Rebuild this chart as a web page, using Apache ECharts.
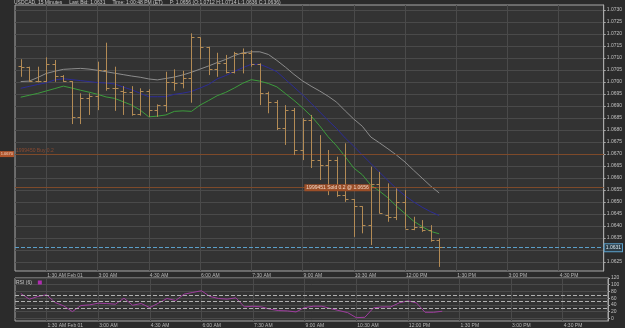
<!DOCTYPE html>
<html>
<head>
<meta charset="utf-8">
<script src="https://cdn.jsdelivr.net/npm/echarts@6/dist/echarts.min.js"></script>
<style>
html, body { margin: 0; padding: 0; background: #2b2b2b; }
#chart { width: 625px; height: 328px; }
</style>
</head>
<body>
<div id="chart"></div>
<script>
// 15 minute bars, Feb 01
var barTimes = ['00:45', '01:00', '01:15', '01:30', '01:45', '02:00', '02:15', '02:30', '02:45', '03:00',
  '03:15', '03:30', '03:45', '04:00', '04:15', '04:30', '04:45', '05:00', '05:15', '05:30',
  '05:45', '06:00', '06:15', '06:30', '06:45', '07:00', '07:15', '07:30', '07:45', '08:00',
  '08:15', '08:30', '08:45', '09:00', '09:15', '09:30', '09:45', '10:00', '10:15', '10:30',
  '10:45', '11:00', '11:15', '11:30', '11:45', '12:00', '12:15', '12:30', '12:45', '13:00'];

var opens = [1.07067, 1.07064, 1.07004, 1.07005, 1.07075, 1.07025, 1.07004, 1.06853, 1.06932, 1.06942,
  1.07050, 1.06974, 1.06964, 1.06960, 1.06865, 1.06963, 1.06883, 1.06904, 1.07001, 1.06997,
  1.07015, 1.07186, 1.07145, 1.07053, 1.07078, 1.07043, 1.07122, 1.07120, 1.07074, 1.06955,
  1.06918, 1.06808, 1.06883, 1.06717, 1.06842, 1.06675, 1.06654, 1.06675, 1.06529, 1.06513,
  1.06483, 1.06404, 1.06575, 1.06446, 1.06436, 1.06501, 1.06390, 1.06395, 1.06383, 1.06342];
var highs = [1.07095, 1.07064, 1.07064, 1.07103, 1.07092, 1.07029, 1.07004, 1.06953, 1.06953, 1.07085,
  1.07164, 1.07064, 1.06983, 1.06983, 1.06974, 1.06970, 1.06907, 1.07043, 1.07053, 1.07047,
  1.07203, 1.07186, 1.07147, 1.07122, 1.07113, 1.07126, 1.07140, 1.07133, 1.07078, 1.06960,
  1.06925, 1.06904, 1.06892, 1.06850, 1.06863, 1.06779, 1.06717, 1.06689, 1.06745, 1.06513,
  1.06483, 1.06647, 1.06626, 1.06578, 1.06557, 1.06550, 1.06439, 1.06425, 1.06404, 1.06349];
var lows = [1.07022, 1.07001, 1.06999, 1.06999, 1.07001, 1.07001, 1.06825, 1.06825, 1.06863, 1.06883,
  1.06964, 1.06880, 1.06863, 1.06860, 1.06860, 1.06855, 1.06855, 1.06876, 1.06964, 1.06974,
  1.06914, 1.07095, 1.07029, 1.07022, 1.07036, 1.07036, 1.07036, 1.07064, 1.06904, 1.06870,
  1.06800, 1.06738, 1.06696, 1.06675, 1.06642, 1.06592, 1.06529, 1.06522, 1.06501, 1.06355,
  1.06370, 1.06321, 1.06453, 1.06418, 1.06425, 1.06390, 1.06383, 1.06376, 1.06335, 1.06230];
var closes = [1.07064, 1.07004, 1.07005, 1.07075, 1.07025, 1.07004, 1.06853, 1.06932, 1.06942, 1.07050,
  1.06974, 1.06974, 1.06960, 1.06865, 1.06963, 1.06883, 1.06904, 1.07001, 1.06997, 1.07015,
  1.07186, 1.07145, 1.07053, 1.07078, 1.07043, 1.07122, 1.07120, 1.07074, 1.06955, 1.06918,
  1.06808, 1.06883, 1.06717, 1.06842, 1.06675, 1.06654, 1.06675, 1.06529, 1.06513, 1.06483,
  1.06404, 1.06575, 1.06453, 1.06436, 1.06501, 1.06390, 1.06395, 1.06383, 1.06342, 1.06314];

// moving averages
var maGray = [1.07002, 1.07004, 1.07019, 1.07036, 1.07045, 1.07053, 1.07055, 1.07057, 1.07054, 1.07049,
  1.07043, 1.07037, 1.07031, 1.07025, 1.07020, 1.07013, 1.07009, 1.07015, 1.07021, 1.07030,
  1.07041, 1.07054, 1.07067, 1.07081, 1.07094, 1.07110, 1.07122, 1.07126, 1.07126, 1.07115,
  1.07090, 1.07062, 1.07032, 1.07005, 1.06983, 1.06963, 1.06941, 1.06916, 1.06880, 1.06846,
  1.06816, 1.06771, 1.06747, 1.06722, 1.06696, 1.06667, 1.06633, 1.06600, 1.06567, 1.06538];
var maBlue = [1.06974, 1.06982, 1.06990, 1.06997, 1.07009, 1.07014, 1.07010, 1.07006, 1.07002, 1.06998,
  1.06996, 1.06992, 1.06979, 1.06968, 1.06953, 1.06939, 1.06939, 1.06939, 1.06949, 1.06954,
  1.06961, 1.06975, 1.06990, 1.07013, 1.07027, 1.07044, 1.07060, 1.07074, 1.07074, 1.07060,
  1.07043, 1.07011, 1.06979, 1.06947, 1.06912, 1.06876, 1.06840, 1.06806, 1.06767, 1.06733,
  1.06696, 1.06661, 1.06625, 1.06590, 1.06556, 1.06527, 1.06501, 1.06479, 1.06460, 1.06444];
var maGreen = [1.06937, 1.06945, 1.06953, 1.06963, 1.06973, 1.06983, 1.06975, 1.06966, 1.06958, 1.06949,
  1.06938, 1.06932, 1.06918, 1.06904, 1.06883, 1.06855, 1.06858, 1.06863, 1.06878, 1.06880,
  1.06878, 1.06904, 1.06923, 1.06943, 1.06957, 1.06975, 1.06995, 1.07010, 1.07004, 1.06994,
  1.06980, 1.06952, 1.06924, 1.06893, 1.06859, 1.06818, 1.06772, 1.06734, 1.06689, 1.06642,
  1.06614, 1.06571, 1.06546, 1.06518, 1.06483, 1.06452, 1.06421, 1.06398, 1.06378, 1.06368];

var rsi = [74, 57, 65, 70, 47, 37, 20, 38, 40, 45,
  44, 42, 60, 39, 44, 32, 45, 59, 53, 72,
  77, 82, 65, 59, 57, 61, 34, 36, 34, 27,
  23, 22, 19, 32, 36, 36, 29, 23, 17, 2,
  3, 31, 34, 34, 46, 52, 46, 18, 18, 21];

var timeTicks = ['01:30', '03:00', '04:30', '06:00', '07:30', '09:00', '10:30', '12:00', '13:30', '15:00', '16:30'];
var timeLabels = ['1:30 AM Feb 01', '3:00 AM', '4:30 AM', '6:00 AM', '7:30 AM', '9:00 AM', '10:30 AM',
  '12:00 PM', '1:30 PM', '3:00 PM', '4:30 PM'];
var priceTicks = [1.0625, 1.0630, 1.0635, 1.0640, 1.0645, 1.0650, 1.0655, 1.0660, 1.0665, 1.0670, 1.0675,
  1.0680, 1.0685, 1.0690, 1.0695, 1.0700, 1.0705, 1.0710, 1.0715, 1.0720, 1.0725, 1.0730];
var rsiTicks = [0, 20, 40, 60, 80, 100, 120];

var lastBid = 1.0631;
var buyLevel = 1.0670;
var sellLevel = 1.0656;

function toMin(t) {
  var p = t.split(':');
  return (+p[0]) * 60 + (+p[1]);
}
var xs = barTimes.map(toMin);
var xTickVals = timeTicks.map(toMin);
function zip(arr) {
  return xs.map(function (x, i) { return [x, arr[i]]; });
}
var ohlc = xs.map(function (x, i) {
  return [x, opens[i], highs[i], lows[i], closes[i]];
});

var FONT = 'Liberation Sans';
var barColor = '#b38b55';
var orderColor = '#7e4a2a';

function renderBar(params, api) {
  var x = api.value(0);
  var o = api.coord([x, api.value(1)]);
  var h = api.coord([x, api.value(2)]);
  var l = api.coord([x, api.value(3)]);
  var c = api.coord([x, api.value(4)]);
  var cx = Math.round(o[0]) + 0.5;
  var st = { stroke: barColor, lineWidth: 1 };
  return {
    type: 'group',
    children: [
      { type: 'line', shape: { x1: cx, y1: h[1], x2: cx, y2: l[1] }, style: st },
      { type: 'line', shape: { x1: cx - 3, y1: Math.round(o[1]) + 0.5, x2: cx, y2: Math.round(o[1]) + 0.5 }, style: st },
      { type: 'line', shape: { x1: cx, y1: Math.round(c[1]) + 0.5, x2: cx + 3, y2: Math.round(c[1]) + 0.5 }, style: st }
    ]
  };
}

function timeLabel(v) {
  var i = xTickVals.indexOf(v);
  return i >= 0 ? timeLabels[i] : '';
}

function xAxisFor(gi) {
  return {
    type: 'value', gridIndex: gi, min: 35, max: 1069,
    axisLine: { show: false },
    axisTick: { show: false, customValues: xTickVals },
    axisLabel: {
      customValues: xTickVals, formatter: timeLabel, align: 'left',
      fontSize: 5, color: '#b8b8b8', margin: 2, fontFamily: FONT, padding: [0, 0, 0, 1]
    },
    splitLine: { show: true, lineStyle: { color: '#4a4a4a', width: 1 } }
  };
}

var option = {
  backgroundColor: '#2b2b2b',
  animation: false,
  title: {
    text: 'USDCAD, 15 Minutes     Last Bid: 1.0631     Time: 1:00:48 PM (ET)     P: 1.0656 (O:1.0712 H:1.0714 L:1.0636 C:1.0636)',
    left: 14, top: 0, padding: 0,
    textStyle: { fontSize: 5, color: '#c8c8c8', fontWeight: 'normal', fontFamily: FONT }
  },
  legend: {
    data: ['RSI (6)'], left: 16, top: 280, padding: 0, align: 'right',
    itemWidth: 4, itemHeight: 4, itemGap: 2, icon: 'rect',
    textStyle: { fontSize: 5, color: '#c8c8c8', fontFamily: FONT, padding: [0, 1, 0, 0] }
  },
  grid: [
    { left: 15, right: 17, top: 5, height: 266, show: true, backgroundColor: '#333333', borderColor: '#a8a8a8', borderWidth: 1 },
    { left: 15, right: 17, top: 278, height: 43, show: true, backgroundColor: '#333333', borderColor: '#a8a8a8', borderWidth: 1 }
  ],
  xAxis: [xAxisFor(0), xAxisFor(1)],
  yAxis: [
    {
      type: 'value', gridIndex: 0, position: 'right', min: 1.06213, max: 1.07321, scale: true,
      axisLine: { show: true, lineStyle: { color: '#a8a8a8' } },
      axisTick: { show: true, customValues: priceTicks, length: 2, lineStyle: { color: '#a8a8a8' } },
      axisLabel: {
        customValues: priceTicks, fontSize: 5, color: '#c0c0c0', margin: 3, fontFamily: FONT,
        formatter: function (v) { return v.toFixed(4); }
      },
      splitLine: { show: true, lineStyle: { color: '#4a4a4a' } }
    },
    {
      type: 'value', gridIndex: 1, position: 'right', min: -8, max: 120,
      axisLine: { show: true, lineStyle: { color: '#a8a8a8' } },
      axisTick: { show: true, customValues: rsiTicks, length: 2, lineStyle: { color: '#a8a8a8' } },
      axisLabel: { customValues: rsiTicks, fontSize: 5, color: '#c0c0c0', margin: 3, fontFamily: FONT },
      splitLine: { show: true, lineStyle: { color: '#4a4a4a' } }
    }
  ],
  series: [
    {
      name: 'ma1', type: 'line', data: zip(maGray), showSymbol: false, silent: true,
      lineStyle: { color: '#8c8c8c', width: 1 },
      markLine: {
        silent: true, symbol: ['none', 'none'], precision: 5,
        lineStyle: { color: orderColor, type: 'solid', width: 1 },
        data: [
          {
            yAxis: buyLevel,
            label: {
              show: true, position: 'start', distance: 1, formatter: buyLevel.toFixed(4),
              fontSize: 4, color: '#f0d0c0', backgroundColor: '#b0552c', padding: [1, 1], fontFamily: FONT
            }
          },
          {
            yAxis: buyLevel,
            label: {
              show: true, position: 'insideStartTop', distance: 1, formatter: '1999450 Buy 0.2',
              fontSize: 5, color: '#8a4a30', fontFamily: FONT
            }
          },
          {
            yAxis: sellLevel,
            label: { show: true, position: 'end', formatter: ' ', fontSize: 5 }
          }
        ]
      }
    },
    {
      name: 'ma2', type: 'line', data: zip(maBlue), showSymbol: false, silent: true,
      lineStyle: { color: '#2c2c96', width: 1 }
    },
    {
      name: 'ma3', type: 'line', data: zip(maGreen), showSymbol: false, silent: true,
      lineStyle: { color: '#3c9c3c', width: 1 },
      markLine: {
        silent: true, symbol: ['none', 'none'], precision: 5,
        lineStyle: { color: '#5a9ec8', type: 'dashed', width: 1 },
        data: [{
          yAxis: lastBid,
          label: {
            show: true, position: 'end', distance: 1, formatter: lastBid.toFixed(4),
            fontSize: 5, color: '#d8e8f0', backgroundColor: '#2e3e48', borderColor: '#5a9ec8',
            borderWidth: 1, padding: [1, 1], fontFamily: FONT
          }
        }]
      }
    },
    {
      name: 'USDCAD', type: 'custom', renderItem: renderBar, data: ohlc,
      encode: { x: 0, y: [1, 2, 3, 4] }, z: 5,
      markPoint: {
        silent: true, symbol: 'rect', symbolSize: [4, 1],
        itemStyle: { color: '#d0602a' },
        data: [{
          coord: [665, sellLevel],
          label: {
            show: true, position: 'left', distance: 1, formatter: '1999451 Sold 0.2 @ 1.0656',
            fontSize: 5, color: '#f0d8c8', backgroundColor: '#9a4e28', padding: [1, 2], fontFamily: FONT
          }
        }]
      }
    },
    {
      name: 'RSI (6)', type: 'line', xAxisIndex: 1, yAxisIndex: 1, data: zip(rsi),
      showSymbol: false, silent: true,
      itemStyle: { color: '#b02cb0' },
      lineStyle: { color: '#a03ca0', width: 1 },
      markLine: {
        silent: true, symbol: ['none', 'none'], label: { show: false },
        lineStyle: { color: '#b0b0b0', type: 'dashed', width: 1 },
        data: [{ yAxis: 70 }, { yAxis: 50 }, { yAxis: 30 }]
      }
    }
  ]
};

var chart = echarts.init(document.getElementById('chart'));
chart.setOption(option);
</script>
</body>
</html>
